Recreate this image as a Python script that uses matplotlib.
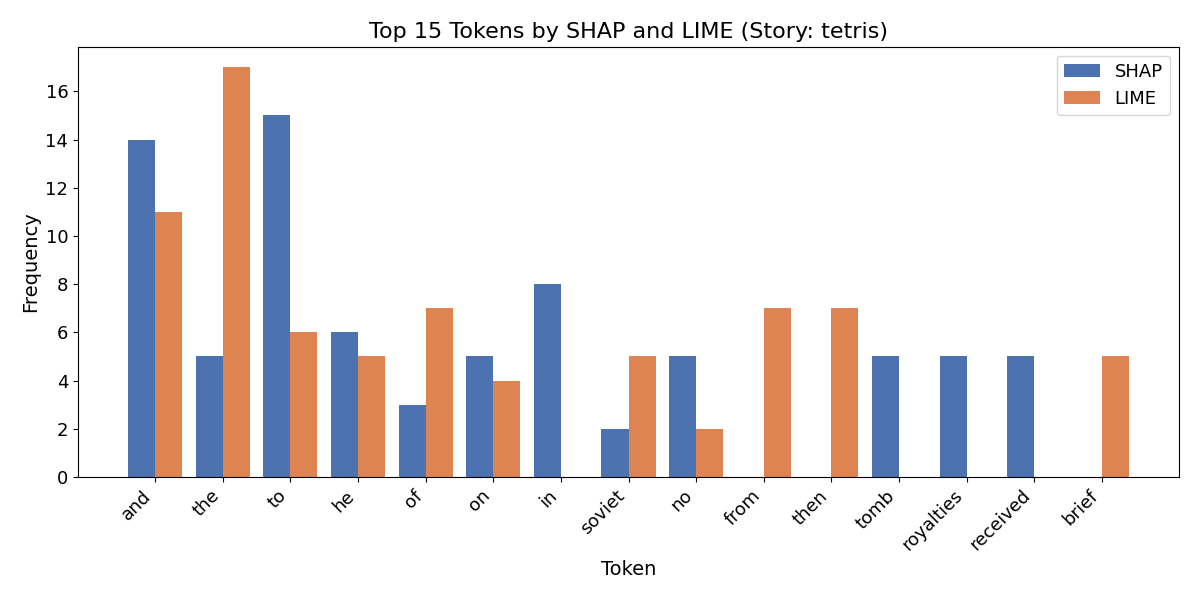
import numpy as np
import matplotlib.pyplot as plt

tokens = ["and", "the", "to", "he", "of", "on", "in", "soviet", "no", "from",
          "then", "tomb", "royalties", "received", "brief"]
shap_counts = [14, 5, 15, 6, 3, 5, 8, 2, 5, 0, 0, 5, 5, 5, 0]
lime_counts = [11, 17, 6, 5, 7, 4, 0, 5, 2, 7, 7, 0, 0, 0, 5]

x = np.arange(len(tokens))
w = 0.4

fig, ax = plt.subplots(figsize=(12, 6))
ax.bar(x - w/2, shap_counts, w, label="SHAP", color="#4c72b0")
ax.bar(x + w/2, lime_counts, w, label="LIME", color="#dd8452")
ax.set_xticks(x)
ax.set_xticklabels(tokens, rotation=45, ha="right", fontsize=13)
ax.tick_params(axis="y", labelsize=13)
ax.set_xlabel("Token", fontsize=14)
ax.set_ylabel("Frequency", fontsize=14)
ax.set_title("Top 15 Tokens by SHAP and LIME (Story: tetris)", fontsize=16)
ax.legend(fontsize=13)
fig.subplots_adjust(left=0.065, right=0.9825, top=0.922, bottom=0.205)
fig.savefig("out.png", dpi=100)
